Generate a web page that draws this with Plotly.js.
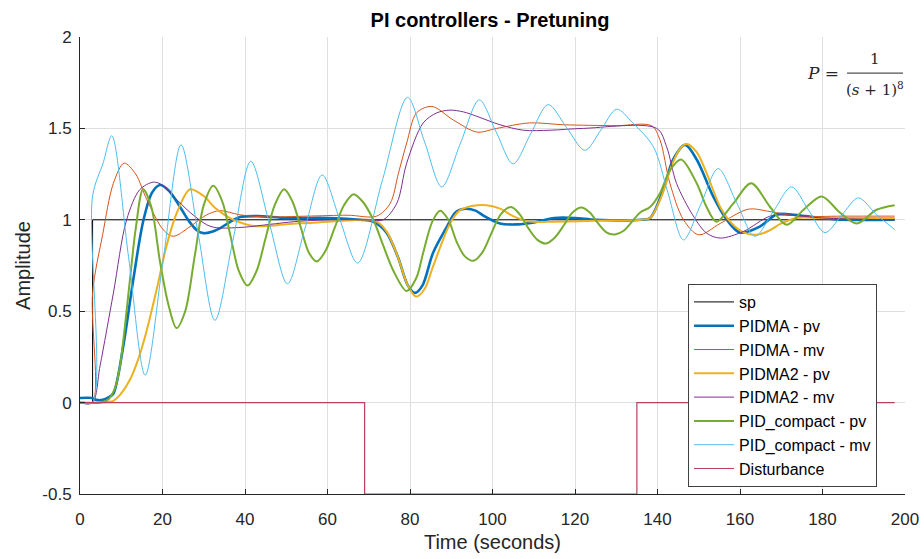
<!DOCTYPE html>
<html>
<head>
<meta charset="utf-8">
<script src="https://cdn.plot.ly/plotly-3.0.1.min.js"></script>
<style>html,body{margin:0;padding:0;background:#fff;}#chart{width:924px;height:559px;}</style>
</head>
<body>
<div id="chart"></div>
<script>
// ---- data ----
const xTicks = [0, 20, 40, 60, 80, 100, 120, 140, 160, 180, 200];
const yTicks = [-0.5, 0, 0.5, 1, 1.5, 2];
const yTickText = ['-0.5', '0', '0.5', '1', '1.5', '2'];

const seriesNames = ['sp', 'PIDMA - pv', 'PIDMA - mv', 'PIDMA2 - pv', 'PIDMA2 - mv',
  'PID_compact - pv', 'PID_compact - mv', 'Disturbance'];

const sp_t = [0, 3.05, 3.05, 197.5];
const sp_v = [0, 0, 1, 1];

const pidmaPv_t = [0,3,4,5.5,7,8.1,10.5,12.9,15.4,17.5,19.4,21.5,24,26.5,28.5,29.9,32,34,36.5,38.8,43,50,60,68,71,74.3,77,79.5,81.2,83,85.6,88.9,91,93.3,95.9,98,101.8,106,110,115,120,125,136,138.2,141.4,143.8,146.7,149.5,153.5,156.8,160,164.8,168.9,172,176,180,185,197.5];
const pidmaPv_v = [0.025,0.025,0.015,0.015,0.03,0.05,0.31,0.67,1.0,1.15,1.19,1.16,1.08,0.99,0.94,0.927,0.935,0.955,0.99,1.015,1.02,1.01,1.01,1.0,0.99,0.93,0.8,0.64,0.60,0.64,0.82,0.96,1.04,1.06,1.05,1.02,0.98,0.975,0.985,1.01,1.01,1.0,1.0,1.01,1.164,1.33,1.41,1.33,1.128,1.0,0.93,0.963,1.03,1.03,1.02,1.01,1.0,1.0];

const pidmaMv_t = [0,3,3.05,5.5,8.1,10.7,13.5,16.2,20.2,22.6,26.7,30.7,33.9,38.8,45,55,65,71.9,75.2,77.2,79.2,81.6,85.3,90.5,96.2,101,109,117.2,130,138.6,140.6,143,146.3,150,155.2,162,167.3,174,185,197.5];
const pidmaMv_v = [0,0,0.6,0.92,1.2,1.31,1.25,1.11,0.945,0.91,0.963,1.027,1.05,1.027,1.016,1.02,1.025,1.02,1.09,1.255,1.42,1.585,1.62,1.546,1.48,1.50,1.53,1.52,1.515,1.514,1.437,1.20,1.0,0.918,0.98,1.058,1.045,1.02,1.02,1.02];

const pidma2Pv_t = [0,5,7,8.1,10,12.1,14,16,18.6,21,23.5,26.7,30,33,37.2,42.8,50,60,70,72,74.5,77,79.5,81.5,83.5,85.6,89.7,92,95,98.6,102,105,109,115,125,136,138.2,141,143.5,145.5,147.1,149.5,152,155.2,158,161,164,167,170,173.7,180,197.5];
const pidma2Pv_v = [0,0,0.005,0.01,0.05,0.125,0.23,0.38,0.62,0.86,1.04,1.167,1.13,1.06,1.0,0.965,0.975,0.99,1.0,0.99,0.93,0.8,0.64,0.58,0.62,0.745,0.98,1.05,1.075,1.08,1.06,1.02,0.99,0.99,0.995,1.0,1.01,1.13,1.3,1.39,1.415,1.37,1.25,1.07,0.98,0.93,0.918,0.94,0.98,1.01,1.01,1.01];

const pidma2Mv_t = [0,3,4.85,8.1,11.3,14.5,17.8,20,22.6,26.7,30.7,32.3,34,40,46,52,60,70,73.5,76.8,79.2,83.2,86.5,89.7,93,96.2,101.8,107.5,113.9,122,139.8,142.2,144.6,148.7,151.9,155.2,160.8,167.3,172,180,197.5];
const pidma2Mv_v = [0,0,0.2,0.6,1.0,1.165,1.206,1.19,1.13,1.04,0.973,0.96,0.955,0.96,0.975,0.99,1.0,1.0,1.0,1.09,1.31,1.53,1.585,1.60,1.59,1.566,1.52,1.49,1.49,1.50,1.50,1.40,1.20,1.02,0.927,0.90,0.936,1.02,1.025,1.01,1.0];

const pidcPv_t = [0,5,7,8.5,9.7,12.1,13.5,15.3,17.3,19.4,21.5,23.4,25.5,27.8,30,32.3,34.5,36.5,38.5,40.6,42.8,45,47.2,49.5,51.5,53.5,55.5,57.4,59.5,61.8,64,66.3,68.5,71.1,73.5,76,79.2,81.5,83.2,85.4,87.3,89.3,91.3,93.3,95.4,97.5,99.8,102,104.5,106.6,108.8,110.9,113,115,117.3,119.4,121.5,123.6,125.6,127.7,129.7,131.8,135.8,138.2,140.6,143,145.7,149.5,151.9,154.3,158.4,162.7,167.3,171.3,175.4,179.8,184.2,188.3,193.1,197.5];
const pidcPv_v = [0,0,0.02,0.08,0.2,0.67,0.95,1.167,1.07,0.77,0.53,0.408,0.5,0.8,1.08,1.186,1.1,0.91,0.72,0.64,0.72,0.9,1.08,1.167,1.1,0.96,0.82,0.772,0.83,0.96,1.08,1.14,1.1,1.0,0.86,0.72,0.61,0.68,0.82,0.99,1.05,1.0,0.88,0.8,0.776,0.82,0.93,1.03,1.07,1.03,0.95,0.89,0.87,0.9,0.97,1.04,1.067,1.04,0.98,0.93,0.92,0.94,1.04,1.07,1.145,1.27,1.33,1.20,1.07,0.99,1.09,1.20,1.07,0.973,1.055,1.128,1.04,0.98,1.055,1.08];

const pidcMv_t = [0,3,3.05,5.6,7.7,11.75,15.8,20.15,24.5,28.6,32.7,37.05,41.4,45.85,50.3,54.5,58.7,63,67.3,73.35,79.4,83.55,87.7,92.25,96.8,100.9,105,109.25,113.5,117.95,122.4,126.25,130.1,134,139,142.5,146.3,150.5,154.7,159.15,163.6,168.05,172.5,176.55,180.6,184.65,188.7,193,197.6];
const pidcMv_v = [0,0,1.13,1.31,1.46,0.8,0.15,0.78,1.41,0.93,0.45,0.885,1.32,0.985,0.65,0.95,1.245,1.0,0.763,1.22,1.67,1.425,1.18,1.42,1.656,1.48,1.306,1.47,1.63,1.505,1.38,1.49,1.605,1.53,1.40,1.15,0.89,1.085,1.28,1.095,0.91,1.045,1.18,1.055,0.93,1.025,1.12,1.03,0.945];

const dist_t = [0, 69, 69, 135, 135, 197.5];
const dist_v = [0, 0, -0.5, -0.5, 0, 0];

// ---- styling ----
const colors = ['#000000', '#0072BD', '#D95319', '#EDB120', '#7E2F8E', '#77AC30', '#4DBEEE', '#B8405C'];
const widths = [1, 2.6, 1, 2, 1, 2, 1, 1.2];
const shapes = ['linear', 'spline', 'spline', 'spline', 'spline', 'spline', 'spline', 'linear'];
const xs = [sp_t, pidmaPv_t, pidmaMv_t, pidma2Pv_t, pidma2Mv_t, pidcPv_t, pidcMv_t, dist_t];
const ys = [sp_v, pidmaPv_v, pidmaMv_v, pidma2Pv_v, pidma2Mv_v, pidcPv_v, pidcMv_v, dist_v];

const traces = seriesNames.map((name, i) => ({
  type: 'scatter', mode: 'lines', name: name,
  x: xs[i], y: ys[i],
  line: {color: colors[i], width: widths[i], shape: shapes[i], smoothing: 0.9}
}));

const mathFont = 'DejaVu Serif, Liberation Serif, serif';

const layout = {
  width: 924, height: 559,
  margin: {l: 80, r: 19, t: 37, b: 65},
  paper_bgcolor: '#ffffff', plot_bgcolor: '#ffffff',
  font: {family: 'Liberation Sans, Arial, Helvetica, sans-serif', color: '#262626', size: 17},
  title: {text: '<b>PI controllers - Pretuning</b>', font: {size: 20, color: '#000000'},
          xref: 'paper', x: 0.497, xanchor: 'center', yref: 'container', y: 0.965, yanchor: 'middle'},
  showlegend: true,
  legend: {x: 0.737, y: 0.4595, xanchor: 'left', yanchor: 'top', bgcolor: '#ffffff',
           bordercolor: '#404040', borderwidth: 1, font: {size: 16, color: '#000000'},
           tracegroupgap: 0, itemwidth: 40},
  xaxis: {range: [0, 200], tickvals: xTicks, ticktext: xTicks.map(String), ticks: 'inside', ticklen: 5,
          tickcolor: '#262626', showline: true, linecolor: '#262626', linewidth: 1, mirror: false,
          showgrid: true, gridcolor: '#dfdfdf', gridwidth: 1, zeroline: false,
          tickfont: {size: 17, color: '#262626'}, ticklabelstandoff: 10,
          title: {text: 'Time (seconds)', font: {size: 20, color: '#262626'}, standoff: 6}},
  yaxis: {range: [-0.5, 2], tickvals: yTicks, ticktext: yTickText, ticks: 'inside', ticklen: 5,
          tickcolor: '#262626', showline: true, linecolor: '#262626', linewidth: 1, mirror: false,
          showgrid: true, gridcolor: '#dfdfdf', gridwidth: 1, zeroline: false,
          tickfont: {size: 17, color: '#262626'}, ticklabelstandoff: 4,
          title: {text: 'Amplitude', font: {size: 20, color: '#262626'}, standoff: 6}},
  shapes: [{type: 'line', xref: 'paper', yref: 'paper', x0: 0.9297, x1: 0.9976, y0: 0.921, y1: 0.921,
            line: {color: '#262626', width: 1}}],
  annotations: [
    {xref: 'paper', yref: 'paper', x: 0.923, y: 0.921, xanchor: 'right', yanchor: 'middle', showarrow: false,
     text: '<i>P</i> =', font: {family: mathFont, size: 17, color: '#262626'}},
    {xref: 'paper', yref: 'paper', x: 0.9636, y: 0.952, xanchor: 'center', yanchor: 'middle', showarrow: false,
     text: '1', font: {family: mathFont, size: 15, color: '#262626'}},
    {xref: 'paper', yref: 'paper', x: 0.9636, y: 0.886, xanchor: 'center', yanchor: 'middle', showarrow: false,
     text: '(<i>s</i> + 1)<sup>8</sup>', font: {family: mathFont, size: 15, color: '#262626'}}
  ]
};

Plotly.newPlot('chart', traces, layout, {staticPlot: true, displayModeBar: false});
</script>
</body>
</html>
